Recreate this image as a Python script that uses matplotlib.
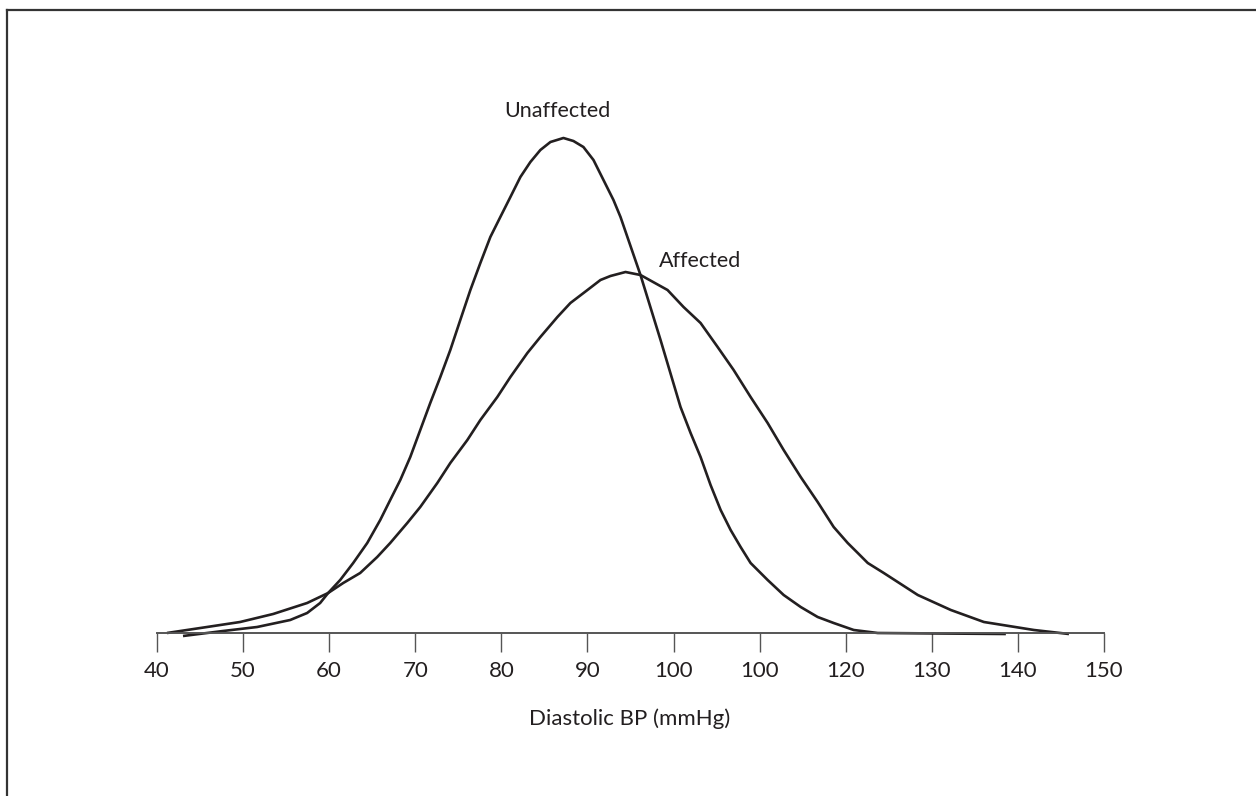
import numpy as np
import matplotlib
matplotlib.use("Agg")
import matplotlib.pyplot as plt
from matplotlib.lines import Line2D

plt.rcParams['font.family'] = ['Lato', 'DejaVu Sans']

# curve readings (diastolic BP, relative height)
unaff_x = [43.02, 47.67, 51.63, 55.47, 57.44, 58.95, 59.88, 61.28, 62.79, 64.42, 65.93,
           67.09, 68.26, 69.42, 70.58, 71.74, 72.91, 74.07, 75.23, 76.40, 77.56, 78.72,
           79.88, 81.05, 82.21, 83.37, 84.53, 85.70, 87.21, 88.37, 89.53, 90.70, 91.86,
           93.02, 93.84, 96.16, 98.49, 100.81, 101.98, 103.14, 104.30, 105.47, 106.63,
           107.79, 108.95, 110.93, 112.79, 114.77, 116.74, 118.60, 120.93, 123.72, 138.60]
unaff_y = [-3, 2, 6, 13, 20, 30, 40, 53, 70, 90, 113,
           133, 153, 176, 203, 230, 256, 283, 313, 343, 370, 396,
           416, 436, 456, 471, 483, 491, 495, 492, 486, 473, 453,
           433, 416, 358, 293, 226, 200, 176, 148, 123, 103,
           86, 70, 53, 38, 26, 16, 10, 3, 0, -1]

aff_x = [41.16, 45.81, 49.65, 53.49, 57.44, 59.88, 61.63, 63.60, 65.58, 67.09, 69.07,
         70.58, 72.56, 74.07, 76.05, 77.56, 79.53, 81.05, 83.02, 84.53, 86.51, 88.02,
         90.00, 91.51, 92.67, 94.42, 96.16, 99.30, 101.16, 103.14, 105.12, 106.98,
         108.95, 110.93, 112.79, 114.77, 116.74, 118.60, 120.23, 121.40, 122.56,
         124.42, 128.37, 132.21, 136.05, 141.86, 145.93]
aff_y = [0, 6, 11, 19, 30, 40, 50, 60, 76, 90, 110,
         126, 150, 170, 193, 213, 236, 256, 280, 296, 316, 330,
         343, 353, 357, 361, 358, 343, 326, 310, 286, 263,
         236, 210, 183, 156, 131, 106, 90, 80, 70,
         60, 38, 23, 11, 3, -1]

ticks = [40, 50, 60, 70, 80, 90, 100, 110, 120, 130, 140, 150]
tick_labels = ["40", "50", "60", "70", "80", "90", "100", "100", "120", "130", "140", "150"]

W, H = 1256, 796
fig = plt.figure(figsize=(W / 100, H / 100), dpi=100)
ax = fig.add_axes([157 / W, 163 / H, (1104 - 157) / W, (633 - 100) / H])

curve_col = "#231f20"
for xs, ys in [(unaff_x, unaff_y), (aff_x, aff_y)]:
    ax.plot(xs, ys, color=curve_col, lw=1.9, clip_on=False,
            solid_capstyle='butt', solid_joinstyle='round')

ax.set_xlim(40, 150)
ax.set_ylim(0, 533)

for s in ['top', 'right', 'left']:
    ax.spines[s].set_visible(False)
ax.spines['bottom'].set_color("#555555")
ax.spines['bottom'].set_linewidth(1.4)
ax.set_yticks([])
ax.set_xticks(ticks)
ax.set_xticklabels(tick_labels, fontsize=16, color="#231f20")
ax.tick_params(axis='x', direction='out', length=14, width=1.0, color="#555555", pad=6)

ax.text(86.5, 516, "Unaffected", fontsize=15.5, ha='center', va='baseline', color="#231f20")
ax.text(103.1, 366, "Affected", fontsize=15.5, ha='center', va='baseline', color="#231f20")

fig.text(630 / W, 1 - 725 / H, "Diastolic BP (mmHg)", fontsize=16, ha='center',
         va='baseline', color="#231f20")

# outer frame (only top and left edges visible)
fig.add_artist(Line2D([7 / W, 1.0], [1 - 10 / H, 1 - 10 / H], transform=fig.transFigure,
                      color="#333333", lw=1.6))
fig.add_artist(Line2D([7 / W, 7 / W], [0.0, 1 - 10 / H], transform=fig.transFigure,
                      color="#333333", lw=1.6))

fig.savefig("out.png", dpi=100, facecolor="white")
